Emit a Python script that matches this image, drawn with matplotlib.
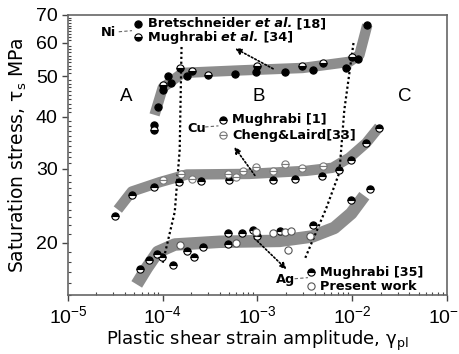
import numpy as np
import matplotlib
matplotlib.use("Agg")
import matplotlib.pyplot as plt
from matplotlib.ticker import LogLocator, MultipleLocator, FixedLocator, NullFormatter

plt.rcParams['font.family'] = ['Liberation Sans', 'DejaVu Sans']
plt.rcParams['mathtext.fontset'] = 'custom'
plt.rcParams['mathtext.rm'] = 'DejaVu Sans'
plt.rcParams['mathtext.it'] = 'DejaVu Sans:italic'

# ---- Ni ----
ni_band_x = [8.2e-5, 1.0e-4, 1.62e-4, 6.5e-4, 3.0e-3, 9.3e-3, 1.19e-2, 1.44e-2]
ni_band_y = [40.4, 46.9, 50.9, 51.6, 52.3, 54.1, 56.2, 66.3]
ni_bret_x = [8.04e-5, 8.86e-5, 1.0e-4, 1.13e-4, 1.21e-4, 1.79e-4, 5.86e-4, 9.76e-4,
             1.97e-3, 3.88e-3, 8.65e-3, 1.16e-2, 1.44e-2]
ni_bret_y = [38.2, 42.2, 46.4, 50.1, 48.2, 50.1, 50.6, 51.2, 51.2, 51.7, 52.3, 54.9, 66.3]
ni_mugh_x = [8.04e-5, 1.0e-4, 1.51e-4, 2.02e-4, 2.98e-4, 1.0e-3, 2.98e-3, 4.95e-3, 1.0e-2]
ni_mugh_y = [37.2, 47.6, 52.3, 51.5, 50.3, 52.9, 52.9, 53.8, 55.6]

# ---- Cu ----
cu_band_x = [3.36e-5, 4.72e-5, 9.29e-5, 1.79e-4, 8.24e-4, 3.28e-3, 6.17e-3, 9.29e-3, 1.40e-2, 1.92e-2]
cu_band_y = [24.0, 26.5, 27.9, 29.1, 29.2, 29.7, 30.2, 31.9, 34.6, 37.8]
cu_mugh_x = [3.13e-5, 4.72e-5, 8.04e-5, 1.47e-4, 2.51e-4, 4.95e-4, 1.47e-3, 2.51e-3,
             4.83e-3, 7.3e-3, 9.75e-3, 1.40e-2, 1.92e-2]
cu_mugh_y = [23.2, 26.0, 27.2, 27.9, 28.1, 28.3, 28.3, 28.4, 28.9, 29.9, 31.6, 34.6, 37.6]
cu_cheng_x = [1.0e-4, 1.55e-4, 2.02e-4, 4.83e-4, 6.0e-4, 6.95e-4, 9.76e-4, 1.47e-3,
              1.97e-3, 2.98e-3, 4.95e-3]
cu_cheng_y = [28.3, 29.2, 28.4, 29.2, 28.7, 29.6, 30.4, 29.7, 30.9, 30.2, 30.5]

# ---- Ag ----
ag_band_x = [5.32e-5, 6.79e-5, 8.86e-5, 1.34e-4, 3.98e-4, 1.71e-3, 3.79e-3, 6.47e-3, 9.75e-3, 1.34e-2]
ag_band_y = [15.9, 17.4, 19.0, 19.8, 20.1, 20.2, 20.7, 21.7, 23.5, 25.9]
ag_mugh_x = [5.73e-5, 7.13e-5, 8.65e-5, 9.75e-5, 1.27e-4, 1.79e-4, 2.12e-4, 2.64e-4,
             4.83e-4, 4.83e-4, 6.79e-4, 8.86e-4, 1.0e-3, 1.71e-3, 3.88e-3, 9.75e-3, 1.55e-2]
ag_mugh_y = [17.3, 18.2, 18.8, 18.5, 17.7, 19.1, 18.5, 19.5,
             21.1, 19.9, 21.1, 21.5, 20.7, 21.3, 22.1, 25.3, 26.9]
ag_pres_x = [1.51e-4, 6.0e-4, 9.76e-4, 1.47e-3, 1.97e-3, 2.28e-3, 2.12e-3, 3.61e-3]
ag_pres_y = [19.7, 20.0, 21.2, 21.1, 21.2, 21.3, 19.2, 20.8]

# ---- guide lines between regimes ----
div1_x = [1.58e-4, 1.51e-4, 1.34e-4, 1.0e-4]
div1_y = [58.7, 33.3, 23.7, 17.9]
div2_x = [1.03e-2, 8.24e-3, 7.3e-3, 5.32e-3, 3.13e-3]
div2_y = [60.0, 41.5, 29.4, 24.2, 18.2]

fig = plt.figure(figsize=(4.59, 3.54), dpi=100)
ax = fig.add_axes([0.148, 0.1667, 0.826, 0.791])
ax.set_xscale('log')
ax.set_yscale('log')
ax.set_xlim(1e-5, 1e-1)
ax.set_ylim(15, 70)

band = dict(color='#8d8d8d', lw=7.5, solid_capstyle='butt', zorder=1)
ax.plot(ni_band_x, ni_band_y, **band)
ax.plot(cu_band_x, cu_band_y, **band)
ax.plot(ag_band_x, ag_band_y, lw=9, color='#8d8d8d', solid_capstyle='butt', zorder=1)

dots = dict(color='black', lw=1.6, ls=(0, (1, 1.2)), zorder=2)
ax.plot(div1_x, div1_y, **dots)
ax.plot(div2_x, div2_y, **dots)

ms = 5.2
full = dict(ls='none', marker='o', ms=ms, mec='black', mew=0.8, zorder=4)
top = dict(ls='none', marker='o', ms=ms, mec='black', mfc='black', mfcalt='white',
           fillstyle='top', mew=0.8, zorder=4)
bot = dict(ls='none', marker='o', ms=ms, mec='black', mfc='black', mfcalt='white',
           fillstyle='bottom', mew=0.8, zorder=4)
gray = dict(ls='none', marker='o', ms=ms, mec='#7a7a7a', mfc='white', mfcalt='white',
            fillstyle='top', mew=0.8, zorder=4)
openc = dict(ls='none', marker='o', ms=ms, mec='#555555', mfc='white', mew=0.8, zorder=4)

ax.plot(ni_bret_x, ni_bret_y, mfc='black', **full)
ax.plot(ni_mugh_x, ni_mugh_y, **bot)
ax.plot(cu_mugh_x, cu_mugh_y, **top)
ax.plot(cu_cheng_x, cu_cheng_y, **gray)
ax.plot(ag_mugh_x, ag_mugh_y, **top)
ax.plot(ag_pres_x, ag_pres_y, **openc)

# arrows from curves to legends
arr = dict(arrowstyle='-|>', ls=(0, (1, 1.3)), lw=1.2, color='black', mutation_scale=9)
ax.annotate('', xy=(5.46e-4, 58.7), xytext=(1.55e-3, 51.7), arrowprops=arr)
ax.annotate('', xy=(5.46e-4, 34.3), xytext=(9.76e-4, 28.6), arrowprops=arr)
ax.annotate('', xy=(2.12e-3, 17.1), xytext=(8.86e-4, 20.7), arrowprops=arr)

# regime labels
for s, fx in [('A', 0.153), ('B', 0.504), ('C', 0.889)]:
    ax.text(fx, 0.71, s, transform=ax.transAxes, fontsize=13.5, ha='center', va='center')

# inline legends
T = ax.transAxes
fs = 9.3
lfam = ['DejaVu Sans']


def entry(fx, fy, style, parts):
    ax.plot([fx], [fy], transform=T, clip_on=False, **style)
    prev = None
    for txt, it in parts:
        kw = dict(fontsize=fs, fontweight='bold', fontstyle='italic' if it else 'normal',
                  va='center', ha='left', family=lfam)
        if prev is None:
            prev = ax.text(fx + 0.025, fy, txt, transform=T, **kw)
        else:
            prev = ax.annotate(txt, xy=(1, 0.5), xycoords=prev, **kw)


def tag(fx, fy, name, x1):
    ax.text(fx, fy, name, transform=T, fontsize=fs, fontweight='bold', va='center',
            ha='left', family=lfam)
    ax.plot([x1, x1 + 0.035], [fy + 0.004, fy + 0.008], transform=T, color='#666666',
            lw=0.8, ls=(0, (3, 2)))


tag(0.088, 0.936, 'Ni', 0.134)
entry(0.185, 0.968, dict(mfc='black', **full), [('Bretschneider ', False), ('et al.', True), (' [18]', False)])
entry(0.185, 0.921, bot, [('Mughrabi ', False), ('et al.', True), (' [34]', False)])

tag(0.315, 0.596, 'Cu', 0.362)
entry(0.409, 0.625, top, [('Mughrabi [1]', False)])
entry(0.409, 0.571, gray, [('Cheng&Laird[33]', False)])

tag(0.549, 0.054, 'Ag', 0.598)
entry(0.641, 0.082, top, [('Mughrabi [35]', False)])
entry(0.641, 0.032, openc, [('Present work', False)])

# axes styling
ax.yaxis.set_major_locator(FixedLocator([20, 30, 40, 50, 60, 70]))
ax.yaxis.set_major_formatter(matplotlib.ticker.FixedFormatter(['20', '30', '40', '50', '60', '70']))
ax.yaxis.set_minor_locator(MultipleLocator(1))
ax.yaxis.set_minor_formatter(NullFormatter())
ax.xaxis.set_major_locator(LogLocator(base=10, numticks=10))
ax.xaxis.set_minor_locator(LogLocator(base=10, subs=np.arange(2, 10), numticks=10))
ax.xaxis.set_minor_formatter(NullFormatter())
ax.tick_params(which='major', direction='out', length=4, width=1, labelsize=14, color='#444444')
ax.tick_params(which='minor', direction='in', length=2.5, width=0.8, color='#444444')
ax.tick_params(top=False, right=False, which='both')
for sp in ax.spines.values():
    sp.set_color('#666666')
    sp.set_linewidth(1.2)

ax.set_xlabel(r'Plastic shear strain amplitude, $\mathrm{\gamma}_{\rm pl}$', fontsize=13,
              labelpad=1, family=['DejaVu Sans'])
ax.set_ylabel(r'Saturation stress, $\mathrm{\tau}_{\rm s}$ MPa', fontsize=13.5, labelpad=5,
              family=['DejaVu Sans'])

fig.savefig('out.png', dpi=100)
